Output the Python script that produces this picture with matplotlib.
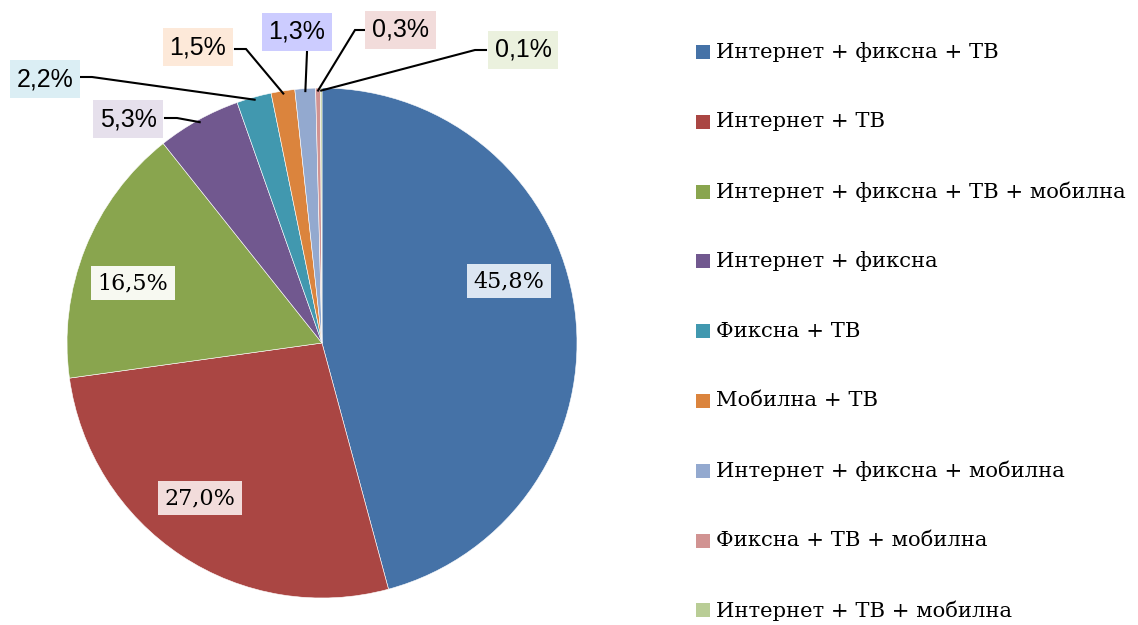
import numpy as np
import matplotlib
matplotlib.use("Agg")
import matplotlib.pyplot as plt
from matplotlib.patches import Rectangle

categories = [
    "Интернет + фиксна + ТВ",
    "Интернет + ТВ",
    "Интернет + фиксна + ТВ + мобилна",
    "Интернет + фиксна",
    "Фиксна + ТВ",
    "Мобилна + ТВ",
    "Интернет + фиксна + мобилна",
    "Фиксна + ТВ + мобилна",
    "Интернет + ТВ + мобилна",
]
shares = [45.8, 27.0, 16.5, 5.3, 2.2, 1.5, 1.3, 0.3, 0.1]
labels = ["45,8%", "27,0%", "16,5%", "5,3%", "2,2%", "1,5%", "1,3%", "0,3%", "0,1%"]

colors = ["#4572A7", "#AA4643", "#89A54E", "#71588F", "#4198AF",
          "#DB843D", "#93A9CF", "#D19392", "#B9CD96"]
box_colors = ["#DCE6F2", "#F2DCDB", "#F7F9F1", "#E6E0EC", "#DBEEF4",
              "#FDE9D9", "#CCCCFF", "#F2DCDB", "#EBF1DE"]

W, H = 1138, 625
cx, cy, R = 322, 343, 255

# label centers in pixels (top-left origin)
label_pos = [(509, 281), (200, 498), (133, 283), (128, 119), (45, 79),
             (198, 47), (297, 32), (401, 30), (523, 50)]
# leader start (at box edge) and elbow, in pixels; None for inside labels
leaders = [None, None, None,
           ((165, 118), (177, 118)),
           ((81, 77), (92, 77)),
           ((235, 49), (246, 49)),
           ((307, 50), (307, 52)),
           ((365, 30), (355, 30)),
           ((486, 50), (475, 50))]


def to_data(p):
    return ((p[0] - cx) / R, (cy - p[1]) / R)


fig = plt.figure(figsize=(W / 100, H / 100), dpi=100)
ax = fig.add_axes([(cx - R) / W, (H - cy - R) / H, 2 * R / W, 2 * R / H])
wedges, _ = ax.pie(shares, colors=colors, startangle=90, counterclock=False,
                   radius=1.0, wedgeprops=dict(edgecolor="white", linewidth=0.4))
ax.set_xlim(-1, 1)
ax.set_ylim(-1, 1)
ax.set_aspect("equal")
ax.axis("off")

for i, w in enumerate(wedges):
    x, y = to_data(label_pos[i])
    fam = "DejaVu Serif" if i < 3 else "Liberation Sans"
    fs = 16 if i < 3 else 18
    ax.text(x, y, labels[i], ha="center", va="center", fontsize=fs, family=fam,
            color="black", clip_on=False,
            bbox=dict(boxstyle="square,pad=0.28", facecolor=box_colors[i],
                      edgecolor="none"))
    if leaders[i] is not None:
        ang = np.deg2rad((w.theta1 + w.theta2) / 2)
        ex, ey = 0.99 * np.cos(ang), 0.99 * np.sin(ang)
        p0 = to_data(leaders[i][0])
        p1 = to_data(leaders[i][1])
        ax.plot([p0[0], p1[0], ex], [p0[1], p1[1], ey], color="black",
                linewidth=1.5, clip_on=False, solid_joinstyle="miter")

# legend
for i, (cat, col) in enumerate(zip(categories, colors)):
    yc = 52 + i * 69.8
    fig.patches.append(Rectangle((696 / W, (H - yc - 7) / H), 14 / W, 14 / H,
                                 transform=fig.transFigure, facecolor=col,
                                 edgecolor="none"))
    fig.text(716 / W, (H - yc) / H, cat, ha="left", va="center",
             fontsize=15.2, family="DejaVu Serif", color="black")

fig.savefig("out.png", dpi=100)
